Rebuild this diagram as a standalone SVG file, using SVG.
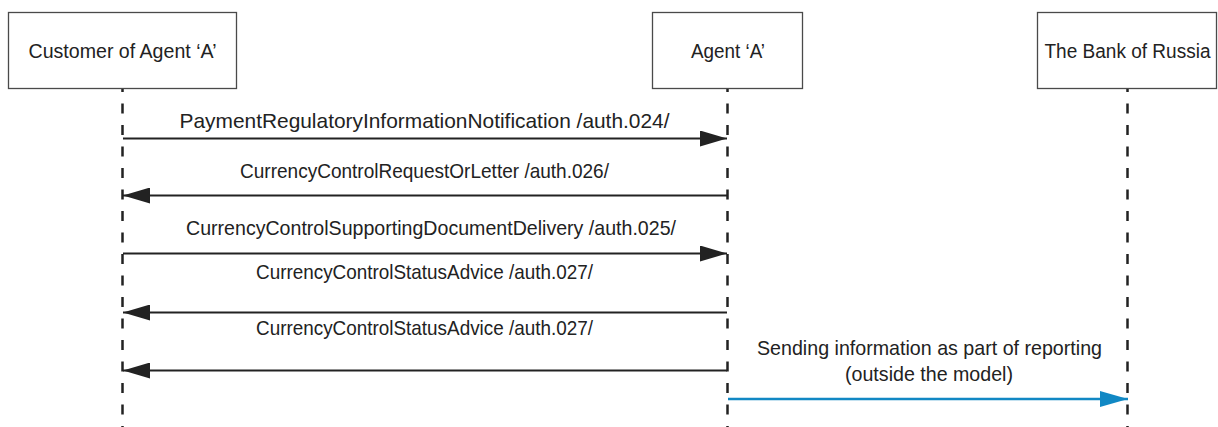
<svg xmlns="http://www.w3.org/2000/svg" width="1218" height="427" viewBox="0 0 1218 427">
  <style>
    .box { fill: #ffffff; stroke: #4a4a4a; stroke-width: 1.3; }
    .life { stroke: #222222; stroke-width: 2.5; stroke-dasharray: 10 11.5; stroke-dashoffset: 6; fill: none; }
    .msg { stroke: #222222; stroke-width: 2; fill: none; }
    .ext { stroke: #1188c4; stroke-width: 2.4; fill: none; }
    text { font-family: "Liberation Sans", Arial, sans-serif; font-size: 21px; fill: #222222; text-anchor: middle; }
    .tight { font-size: 20px; }
  </style>
  <defs>
    <marker id="head" viewBox="0 0 27 16" refX="27" refY="8" markerWidth="27" markerHeight="16" markerUnits="userSpaceOnUse" orient="auto">
      <path d="M0,0 L27,8 L0,16 Z" fill="#222222"/>
    </marker>
    <marker id="head-blue" viewBox="0 0 28 16" refX="28" refY="8" markerWidth="28" markerHeight="16" markerUnits="userSpaceOnUse" orient="auto">
      <path d="M0,0 L28,8 L0,16 Z" fill="#1188c4"/>
    </marker>
  </defs>

  <!-- lifelines -->
  <g id="lifelines">
    <line class="life" x1="122.5" y1="88" x2="122.5" y2="427"/>
    <line class="life" x1="727.5" y1="88" x2="727.5" y2="427"/>
    <line class="life" x1="1127.5" y1="88" x2="1127.5" y2="427"/>
  </g>

  <!-- participants -->
  <g id="customer">
    <rect class="box" x="8.5" y="12.5" width="228" height="76"/>
    <text x="122.5" y="57.5" textLength="188" lengthAdjust="spacingAndGlyphs">Customer of Agent ‘A’</text>
  </g>
  <g id="agent-a">
    <rect class="box" x="652.5" y="12.5" width="150" height="76"/>
    <text x="728" y="57.5" textLength="74" lengthAdjust="spacingAndGlyphs">Agent ‘A’</text>
  </g>
  <g id="bank-of-russia">
    <rect class="box" x="1037.5" y="12.5" width="179" height="76"/>
    <text class="tight" x="1127.5" y="57.5" textLength="166" lengthAdjust="spacingAndGlyphs">The Bank of Russia</text>
  </g>

  <!-- messages -->
  <g id="connectors">
    <line class="msg" x1="123" y1="138.5" x2="727" y2="138.5" marker-end="url(#head)"/>
    <line class="msg" x1="727" y1="195.5" x2="123" y2="195.5" marker-end="url(#head)"/>
    <line class="msg" x1="123" y1="253.5" x2="727" y2="253.5" marker-end="url(#head)"/>
    <line class="msg" x1="727" y1="312.5" x2="123" y2="312.5" marker-end="url(#head)"/>
    <line class="msg" x1="727" y1="370.5" x2="123" y2="370.5" marker-end="url(#head)"/>
    <line class="ext" x1="728" y1="399" x2="1128" y2="399" marker-end="url(#head-blue)"/>
  </g>

  <!-- message labels -->
  <g id="labels">
    <text x="424.5" y="127.5" textLength="490" lengthAdjust="spacingAndGlyphs">PaymentRegulatoryInformationNotification /auth.024/</text>
    <text x="424.5" y="177.5" textLength="369" lengthAdjust="spacingAndGlyphs">CurrencyControlRequestOrLetter /auth.026/</text>
    <text x="431" y="234.5" textLength="490" lengthAdjust="spacingAndGlyphs">CurrencyControlSupportingDocumentDelivery /auth.025/</text>
    <text x="424.5" y="278.5" textLength="337" lengthAdjust="spacingAndGlyphs">CurrencyControlStatusAdvice /auth.027/</text>
    <text x="424.5" y="334.5" textLength="337" lengthAdjust="spacingAndGlyphs">CurrencyControlStatusAdvice /auth.027/</text>
    <text x="929.5" y="354.5" textLength="345" lengthAdjust="spacingAndGlyphs">Sending information as part of reporting</text>
    <text x="929" y="380.5" textLength="168" lengthAdjust="spacingAndGlyphs">(outside the model)</text>
  </g>
</svg>
